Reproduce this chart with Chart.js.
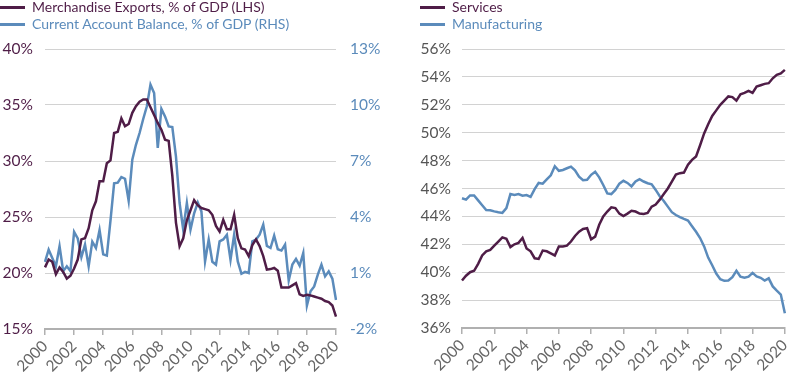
<!DOCTYPE html>
<html>
<head>
<meta charset="utf-8">
<script src="https://cdn.jsdelivr.net/npm/chart.js@4.4.1/dist/chart.umd.min.js"></script>
<style>
  body { margin: 0; width: 800px; height: 376px; position: relative; overflow: hidden; background: #fff; font-family: Lato, sans-serif; }
  .box { position: absolute; top: 0; width: 400px; height: 376px; }
  .legend { position: absolute; top: -2px; font-size: 14px; line-height: 17px; white-space: nowrap; }
  .legend .sw { display: inline-block; width: 25px; height: 3px; vertical-align: middle; margin-right: 7px; position: relative; top: -1px; }
</style>
</head>
<body>
<div class="box" style="left:0"><canvas id="tradeChart" width="400" height="376"></canvas></div>
<div class="box" style="left:400px"><canvas id="sectorChart" width="400" height="376"></canvas></div>

<div class="legend" style="left:0">
  <div style="color:#4f1d47"><span class="sw" style="background:#4f1d47"></span>Merchandise Exports, % of GDP (LHS)</div>
  <div style="color:#5b8bbb"><span class="sw" style="background:#5b8bbb"></span>Current Account Balance, % of GDP (RHS)</div>
</div>
<div class="legend" style="left:420px">
  <div style="color:#4f1d47"><span class="sw" style="background:#4f1d47"></span>Services</div>
  <div style="color:#5b8bbb"><span class="sw" style="background:#5b8bbb"></span>Manufacturing</div>
</div>

<script>
// Colours
const PURPLE = '#4f1d47';
const BLUE = '#5b8bbb';

// Tick labels shown on the x axis (first quarter of each even year)
const yearTicks = ['2000', '2002', '2004', '2006', '2008', '2010', '2012', '2014', '2016', '2018', '2020'];

// Quarterly categories, 2000 Q1 .. 2020 Q1
const quarters = [];
for (let y = 2000; y <= 2020; y++) {
    for (let q = 1; q <= 4; q++) {
        if (y === 2020 && q > 1) break;
        quarters.push(y + ' Q' + q);
    }
}

// Left chart: merchandise exports (% of GDP, LHS)
const merchExports = [
    20.5, 21.2, 21.0, 19.9, 20.5, 20.1, 19.5, 19.75, 20.4, 21.2,
    23.0, 23.1, 24.0, 25.6, 26.4, 28.2, 28.2, 29.8, 30.05, 32.5,
    32.6, 33.8, 33.1, 33.3, 34.3, 34.9, 35.3, 35.5, 35.5, 34.8,
    34.1, 33.4, 32.8, 31.9, 31.8, 28.7, 24.5, 22.4, 23.1, 24.7,
    25.6, 26.5, 26.05, 25.8, 25.7, 25.6, 25.2, 24.2, 23.7, 24.75,
    23.9, 23.9, 25.2, 23.1, 22.2, 22.1, 21.5, 22.5, 23.0, 22.4,
    21.5, 20.3, 20.35, 20.45, 20.2, 18.7, 18.7, 18.7, 18.9, 19.1,
    18.1, 17.95, 18.05, 18.0, 17.9, 17.8, 17.7, 17.5, 17.4, 17.1,
    16.1
];

// Left chart: current account balance (% of GDP, RHS)
const currentAccount = [
    1.6, 2.25, 1.8, 1.36, 2.43, 1.1, 1.36, 1.1, 3.2, 2.85,
    1.85, 2.52, 1.36, 2.68, 2.34, 3.3, 2.0, 1.93, 3.8, 5.8,
    5.84, 6.14, 6.05, 4.87, 7.07, 7.87, 8.5, 9.25, 9.93, 11.09,
    10.64, 7.7, 9.79, 9.39, 8.85, 8.82, 7.25, 4.75, 3.32, 4.75,
    3.32, 4.2, 4.77, 4.3, 1.62, 2.79, 1.6, 1.45, 2.7, 2.8,
    3.05, 1.71, 3.05, 1.62, 0.96, 1.06, 1.0, 2.7, 2.79, 3.05,
    3.59, 2.45, 2.34, 3.0, 2.27, 2.2, 2.52, 0.6, 1.45, 1.75,
    1.39, 2.07, -0.75, 0.02, 0.28, 0.91, 1.45, 0.82, 1.09, 0.7,
    -0.45
];

// Right chart: share of output, services vs manufacturing (%)
const services = [
    39.4, 39.75, 40.0, 40.1, 40.6, 41.2, 41.5, 41.6, 41.9, 42.2,
    42.5, 42.4, 41.8, 42.0, 42.1, 42.45, 41.7, 41.5, 41.0, 40.95,
    41.55, 41.5, 41.35, 41.2, 41.85, 41.85, 41.9, 42.2, 42.6, 42.9,
    43.1, 43.15, 42.36, 42.55, 43.4, 44.0, 44.35, 44.65, 44.6, 44.2,
    44.03, 44.2, 44.4, 44.35, 44.2, 44.18, 44.25, 44.7, 44.85, 45.2,
    45.6, 46.0, 46.5, 47.0, 47.1, 47.14, 47.7, 48.05, 48.3, 49.1,
    49.95, 50.6, 51.2, 51.6, 52.0, 52.3, 52.6, 52.55, 52.3, 52.75,
    52.85, 53.0, 52.85, 53.3, 53.4, 53.5, 53.55, 53.9, 54.15, 54.25,
    54.5
];

const manufacturing = [
    45.3, 45.2, 45.5, 45.5, 45.15, 44.8, 44.46, 44.44, 44.36, 44.3,
    44.25, 44.6, 45.6, 45.54, 45.6, 45.48, 45.53, 45.4, 45.95, 46.4,
    46.35, 46.65, 46.95, 47.6, 47.27, 47.33, 47.45, 47.57, 47.3, 46.85,
    46.6, 46.62, 46.98, 47.2, 46.8, 46.25, 45.65, 45.6, 45.9, 46.35,
    46.55, 46.4, 46.15, 46.5, 46.67, 46.5, 46.38, 46.3, 45.9, 45.45,
    45.1, 44.7, 44.3, 44.1, 43.95, 43.82, 43.7, 43.3, 42.9, 42.45,
    41.85, 41.05, 40.5, 39.9, 39.5, 39.38, 39.4, 39.65, 40.1, 39.68,
    39.6, 39.68, 39.95, 39.7, 39.6, 39.4, 39.56, 38.98, 38.68, 38.4,
    37.05
];

const FONT = { family: 'Lato, sans-serif', size: 15.5 };

function isYearTick(i) {
    const l = quarters[i];
    return l.endsWith('Q1') && yearTicks.includes(l.slice(0, 4));
}

function xAxis(height) {
    return {
        type: 'category',
        offset: false,
        afterFit: s => { s.height = height; },
        border: { display: true, color: '#b0b0b0', width: 2 },
        grid: {
            display: true,
            drawOnChartArea: false,
            drawTicks: true,
            tickLength: 6,
            lineWidth: 1.5,
            color: ctx => isYearTick(ctx.index) ? '#b0b0b0' : 'rgba(0,0,0,0)'
        },
        ticks: {
            autoSkip: false,
            minRotation: 45,
            maxRotation: 45,
            padding: 2,
            color: '#666666',
            font: FONT,
            callback: (val, i) => isYearTick(i) ? quarters[i].slice(0, 4) : ''
        }
    };
}

function line(label, data, color, axis) {
    return {
        label: label,
        data: data,
        borderColor: color,
        backgroundColor: color,
        borderWidth: 2.5,
        pointRadius: 0,
        tension: 0,
        yAxisID: axis
    };
}

// Left chart: exports and current account
new Chart(document.getElementById('tradeChart').getContext('2d'), {
    type: 'line',
    data: {
        labels: quarters,
        datasets: [
            line('Merchandise Exports, % of GDP (LHS)', merchExports, PURPLE, 'y'),
            line('Current Account Balance, % of GDP (RHS)', currentAccount, BLUE, 'y1')
        ]
    },
    options: {
        responsive: false,
        animation: false,
        layout: { padding: { top: 49, right: 0, left: 0, bottom: 0 } },
        plugins: { legend: { display: false }, tooltip: { enabled: false } },
        scales: {
            x: xAxis(47),
            y: {
                position: 'left',
                min: 15, max: 40,
                afterFit: s => { s.width = 45; },
                border: { display: false },
                grid: { color: '#d2d2d2', lineWidth: 1, drawTicks: false },
                ticks: { stepSize: 5, padding: 12, color: PURPLE, font: FONT, callback: v => v + '%' }
            },
            y1: {
                position: 'right',
                min: -2, max: 13,
                afterFit: s => { s.width = 64; },
                border: { display: false },
                grid: { drawOnChartArea: false, drawTicks: false },
                ticks: { stepSize: 3, padding: 14, color: BLUE, font: FONT, callback: v => v + '%' }
            }
        }
    }
});

// Right chart: services vs manufacturing
new Chart(document.getElementById('sectorChart').getContext('2d'), {
    type: 'line',
    data: {
        labels: quarters,
        datasets: [
            line('Services', services, PURPLE, 'y'),
            line('Manufacturing', manufacturing, BLUE, 'y')
        ]
    },
    options: {
        responsive: false,
        animation: false,
        layout: { padding: { top: 49, right: 1, left: 0, bottom: 0 } },
        plugins: { legend: { display: false }, tooltip: { enabled: false } },
        scales: {
            x: xAxis(48),
            y: {
                position: 'left',
                min: 36, max: 56,
                afterFit: s => { s.width = 62; },
                border: { display: false },
                grid: { color: '#d2d2d2', lineWidth: 1, drawTicks: false },
                ticks: { stepSize: 2, padding: 11, color: '#555555', font: FONT, callback: v => v + '%' }
            }
        }
    }
});
</script>
</body>
</html>
